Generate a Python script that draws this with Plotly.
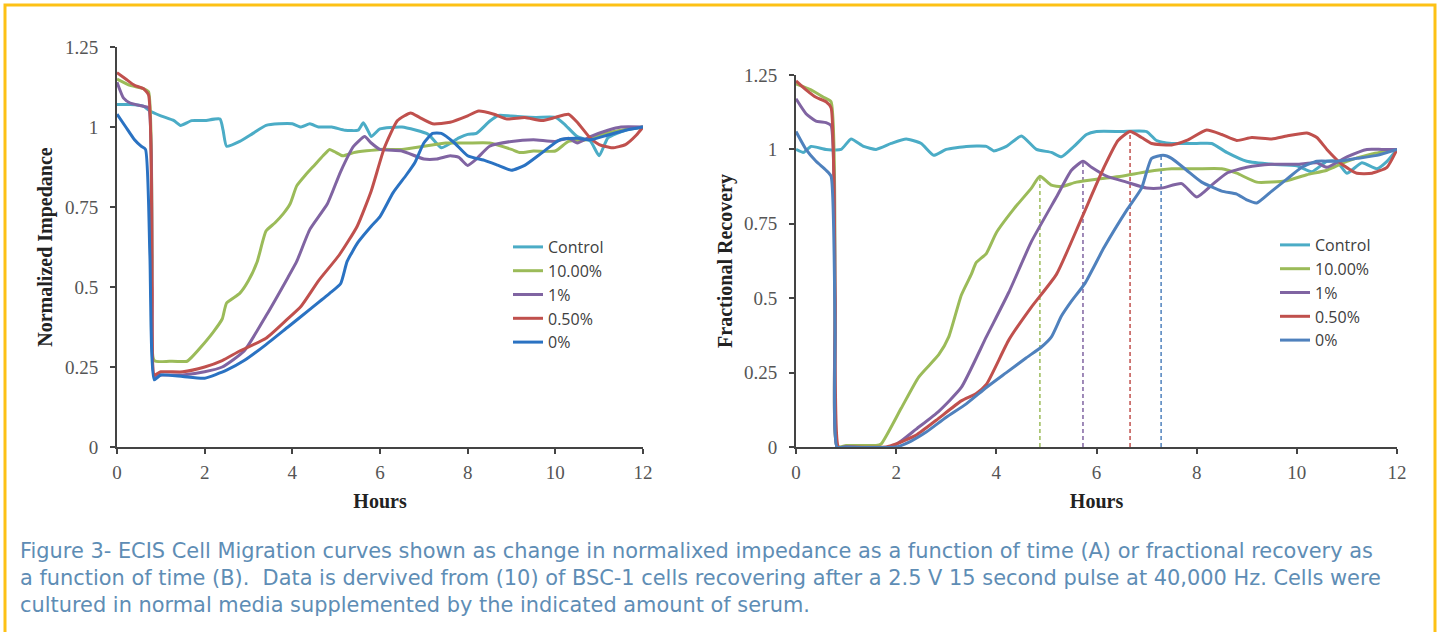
import plotly.graph_objects as go

W, H = 1442, 632

series_names = ["Control", "10.00%", "1%", "0.50%", "0%"]
colors_a = ["#4BACC6", "#9BBB59", "#8064A2", "#C0504D", "#2A72C2"]
colors_b = ["#4BACC6", "#9BBB59", "#8064A2", "#C0504D", "#4F81BD"]

# ---------- Panel A: Normalized Impedance ----------
a_control_t = [0, 0.3, 0.6, 0.75, 1.0, 1.3, 1.45, 1.7, 2.0, 2.35, 2.42, 2.5, 2.8, 3.1, 3.4, 3.7, 4.0, 4.2, 4.4,
               4.6, 4.9, 5.2, 5.5, 5.62, 5.72, 5.8, 6.0, 6.5, 7.1, 7.4, 7.8, 8.0, 8.2, 8.5, 8.7, 9.0, 9.55, 10.0,
               10.2, 10.5, 10.8, 11.0, 11.2, 11.6, 12]
a_control_v = [1.07, 1.07, 1.065, 1.05, 1.035, 1.02, 1.005, 1.02, 1.02, 1.025, 0.99, 0.94, 0.955, 0.98, 1.005,
               1.01, 1.01, 1.0, 1.01, 1.0, 1.0, 0.99, 0.99, 1.013, 0.99, 0.97, 0.994, 1.0, 0.977, 0.935, 0.966,
               0.977, 0.98, 1.018, 1.036, 1.034, 1.03, 1.03, 1.01, 0.97, 0.956, 0.91, 0.966, 0.99, 1.0]

a_10_t = [0, 0.3, 0.6, 0.72, 0.8, 0.85, 1.2, 1.6, 1.7, 1.9, 2.2, 2.4, 2.5, 2.8, 3.0, 3.2, 3.4, 3.6, 3.8, 3.95,
          4.1, 4.3, 4.5, 4.7, 4.85, 5.0, 5.15, 5.4, 6.0, 6.5, 7.0, 7.5, 8.0, 8.5, 9.0, 9.2, 9.5, 10.0, 10.3,
          10.7, 11.0, 11.5, 12]
a_10_v = [1.15, 1.13, 1.12, 1.11, 0.6, 0.27, 0.268, 0.268, 0.28, 0.31, 0.36, 0.40, 0.45, 0.48, 0.52, 0.58,
          0.675, 0.70, 0.73, 0.76, 0.816, 0.85, 0.88, 0.91, 0.93, 0.92, 0.91, 0.92, 0.93, 0.93, 0.94, 0.95,
          0.95, 0.95, 0.93, 0.92, 0.925, 0.925, 0.955, 0.96, 0.975, 0.99, 1.0]

a_1_t = [0, 0.15, 0.3, 0.6, 0.72, 0.8, 0.85, 1.0, 1.5, 2.0, 2.4, 2.9, 3.4, 3.9, 4.1, 4.4, 4.8, 5.1, 5.4, 5.65,
         5.8, 6.0, 6.5, 7.0, 7.3, 7.6, 7.8, 8.0, 8.2, 8.5, 9.0, 9.5, 10.0, 10.3, 10.5, 10.8, 11.2, 11.5, 12]
a_1_v = [1.14, 1.09, 1.075, 1.065, 1.06, 0.5, 0.22, 0.225, 0.225, 0.235, 0.25, 0.30, 0.41, 0.53, 0.58, 0.68,
         0.76, 0.86, 0.94, 0.97, 0.95, 0.93, 0.925, 0.90, 0.90, 0.91, 0.905, 0.88, 0.90, 0.94, 0.955, 0.96,
         0.955, 0.965, 0.95, 0.97, 0.99, 1.0, 1.0]

a_05_t = [0, 0.2, 0.4, 0.6, 0.72, 0.8, 0.85, 1.0, 1.5, 2.0, 2.4, 2.8, 3.4, 3.85, 4.2, 4.6, 5.07, 5.48, 5.8, 6.1,
          6.4, 6.7, 6.9, 7.2, 7.6, 8.0, 8.25, 8.6, 8.9, 9.3, 9.7, 10.0, 10.3, 10.5, 10.8, 11.0, 11.3, 11.6,
          11.85, 12]
a_05_v = [1.17, 1.15, 1.13, 1.12, 1.10, 0.5, 0.225, 0.235, 0.235, 0.25, 0.27, 0.30, 0.34, 0.395, 0.44, 0.52,
          0.60, 0.69, 0.80, 0.935, 1.02, 1.044, 1.03, 1.01, 1.015, 1.035, 1.05, 1.04, 1.025, 1.03, 1.02, 1.03,
          1.04, 1.015, 0.965, 0.945, 0.935, 0.945, 0.975, 1.0]

a_0_t = [0, 0.2, 0.4, 0.55, 0.65, 0.75, 0.85, 1.0, 1.5, 2.0, 2.5, 2.9, 3.4, 3.9, 4.4, 4.85, 5.1, 5.25, 5.5,
         5.8, 6.0, 6.3, 6.6, 6.8, 7.0, 7.2, 7.4, 7.7, 8.0, 8.4, 8.7, 9.0, 9.3, 9.7, 10.1, 10.5, 10.8, 11.2,
         11.6, 12]
a_0_v = [1.04, 1.0, 0.96, 0.94, 0.93, 0.6, 0.21, 0.225, 0.22, 0.215, 0.24, 0.27, 0.32, 0.375, 0.43, 0.48,
         0.51, 0.58, 0.64, 0.69, 0.72, 0.795, 0.85, 0.89, 0.95, 0.98, 0.98, 0.95, 0.91, 0.895, 0.88, 0.865,
         0.88, 0.92, 0.96, 0.965, 0.96, 0.975, 0.99, 1.0]

# ---------- Panel B: Fractional Recovery ----------
b_control_t = [0, 0.15, 0.3, 0.6, 0.9, 1.1, 1.35, 1.6, 1.9, 2.2, 2.5, 2.75, 3.0, 3.4, 3.8, 3.95, 4.2, 4.5,
               4.8, 5.1, 5.3, 5.55, 5.8, 6.0, 6.5, 7.0, 7.2, 7.5, 8.0, 8.3, 8.6, 9.0, 9.5, 10.0, 10.3, 10.6,
               10.8, 11.0, 11.3, 11.6, 11.8, 12]
b_control_v = [1.0, 0.99, 1.01, 1.0, 1.0, 1.035, 1.01, 1.0, 1.02, 1.035, 1.02, 0.98, 1.0, 1.01, 1.01, 0.995,
               1.01, 1.045, 1.0, 0.99, 0.975, 1.01, 1.05, 1.06, 1.06, 1.06, 1.03, 1.02, 1.02, 1.02, 0.99,
               0.96, 0.95, 0.945, 0.925, 0.96, 0.96, 0.92, 0.955, 0.935, 0.96, 1.0]

b_10_t = [0, 0.3, 0.55, 0.7, 0.78, 0.82, 1.0, 1.3, 1.6, 1.7, 2.1, 2.45, 2.85, 3.05, 3.3, 3.5, 3.6, 3.8, 4.0,
          4.35, 4.7, 4.87, 5.1, 5.3, 5.6, 6.0, 6.5, 7.0, 7.5, 8.0, 8.5, 8.8, 9.2, 9.8, 10.2, 10.6, 11.0,
          11.5, 12]
b_10_v = [1.22, 1.2, 1.175, 1.16, 0.5, 0.0, 0.005, 0.005, 0.005, 0.01, 0.13, 0.235, 0.31, 0.37, 0.51, 0.58,
          0.62, 0.65, 0.72, 0.80, 0.87, 0.91, 0.88, 0.875, 0.89, 0.90, 0.91, 0.925, 0.935, 0.935, 0.935,
          0.92, 0.89, 0.895, 0.915, 0.93, 0.96, 0.985, 1.0]

b_1_t = [0, 0.2, 0.4, 0.6, 0.7, 0.78, 0.82, 1.0, 1.9, 2.1, 2.4, 2.85, 3.3, 3.8, 4.25, 4.7, 5.2, 5.5, 5.73,
         5.9, 6.2, 6.6, 7.0, 7.3, 7.7, 8.0, 8.3, 8.6, 9.0, 9.5, 10.0, 10.4, 10.6, 11.0, 11.4, 11.7, 12]
b_1_v = [1.17, 1.12, 1.095, 1.09, 1.08, 0.5, 0.0, 0.0, 0.0, 0.02, 0.06, 0.12, 0.2, 0.37, 0.52, 0.69, 0.84,
         0.93, 0.96, 0.94, 0.91, 0.89, 0.87, 0.87, 0.885, 0.84, 0.88, 0.92, 0.94, 0.95, 0.95, 0.955, 0.94,
         0.975, 1.0, 1.0, 1.0]

b_05_t = [0, 0.2, 0.4, 0.6, 0.7, 0.78, 0.85, 1.0, 1.8, 2.0, 2.4, 2.8, 3.3, 3.6, 3.8, 4.25, 4.7, 5.2, 5.68,
          6.15, 6.43, 6.67, 6.9, 7.1, 7.5, 7.8, 8.2, 8.5, 8.8, 9.1, 9.5, 9.8, 10.2, 10.4, 10.6, 10.9, 11.2,
          11.5, 11.8, 12]
b_05_v = [1.23, 1.2, 1.175, 1.16, 1.14, 0.5, 0.0, 0.0, 0.0, 0.01, 0.04, 0.09, 0.155, 0.18, 0.21, 0.36, 0.47,
          0.58, 0.76, 0.94, 1.03, 1.06, 1.04, 1.02, 1.015, 1.03, 1.065, 1.05, 1.03, 1.04, 1.035, 1.045,
          1.055, 1.04, 1.0, 0.95, 0.92, 0.92, 0.94, 1.0]

b_0_t = [0, 0.2, 0.4, 0.6, 0.7, 0.78, 0.82, 1.0, 2.0, 2.3, 2.6, 3.0, 3.4, 3.8, 4.2, 4.6, 4.9, 5.1, 5.3,
         5.5, 5.77, 6.15, 6.62, 6.9, 7.1, 7.33, 7.5, 7.8, 8.1, 8.5, 8.8, 9.0, 9.2, 9.5, 9.8, 10.1, 10.4,
         10.8, 11.2, 11.6, 12]
b_0_v = [1.06, 1.0, 0.96, 0.93, 0.91, 0.4, 0.0, 0.0, 0.0, 0.02, 0.05, 0.1, 0.145, 0.2, 0.25, 0.3, 0.336,
         0.37, 0.44, 0.49, 0.55, 0.67, 0.80, 0.87, 0.97, 0.98, 0.97, 0.93, 0.89, 0.86, 0.85, 0.83, 0.82,
         0.86, 0.90, 0.94, 0.96, 0.96, 0.97, 0.98, 1.0]

# time to peak markers (panel B), for 10.00%, 1%, 0.50%, 0%
peak_names = ["10.00%", "1%", "0.50%", "0%"]
peak_hours = [4.87, 5.73, 6.67, 7.29]
peak_values = [0.91, 0.96, 1.06, 0.98]
peak_colors = ["#9BBB59", "#8064A2", "#C0504D", "#4F81BD"]

x_ticks = [0, 2, 4, 6, 8, 10, 12]
y_ticks = [0, 0.25, 0.5, 0.75, 1, 1.25]
y_ticklabels = ["0", "0.25", "0.5", "0.75", "1", "1.25"]

caption_lines = [
    "Figure 3- ECIS Cell Migration curves shown as change in normalixed impedance as a function of time (A) or fractional recovery as",
    "a function of time (B).  Data is dervived from (10) of BSC-1 cells recovering after a 2.5 V 15 second pulse at 40,000 Hz. Cells were",
    "cultured in normal media supplemented by the indicated amount of serum.",
]

panel_a = [(a_control_t, a_control_v), (a_10_t, a_10_v), (a_1_t, a_1_v), (a_05_t, a_05_v), (a_0_t, a_0_v)]
panel_b = [(b_control_t, b_control_v), (b_10_t, b_10_v), (b_1_t, b_1_v), (b_05_t, b_05_v), (b_0_t, b_0_v)]

fig = go.Figure()

for i, (t, v) in enumerate(panel_a):
    fig.add_trace(go.Scatter(x=t, y=v, mode="lines", name=series_names[i],
                             line=dict(color=colors_a[i], width=3, shape="spline", smoothing=0.5),
                             xaxis="x", yaxis="y", legend="legend", legendgroup="a%d" % i))

for k in range(len(peak_hours)):
    fig.add_trace(go.Scatter(x=[peak_hours[k], peak_hours[k]], y=[0, peak_values[k]], mode="lines",
                             line=dict(color=peak_colors[k], width=1.5, dash="4px,3px"),
                             showlegend=False, hoverinfo="skip", xaxis="x2", yaxis="y2",
                             name=peak_names[k]))

for i, (t, v) in enumerate(panel_b):
    fig.add_trace(go.Scatter(x=t, y=v, mode="lines", name=series_names[i],
                             line=dict(color=colors_b[i], width=3, shape="spline", smoothing=0.5),
                             xaxis="x2", yaxis="y2", legend="legend2", legendgroup="b%d" % i))

def px_x(p):
    return p / W

def px_y(p):
    return (H - p) / H

tick_font = dict(family="Liberation Serif, Times New Roman, serif", size=19, color="#555555")
title_font = dict(family="Liberation Serif, Times New Roman, serif", size=20, color="#222222", weight="bold")

common_x = dict(range=[0, 12], tickvals=x_ticks, ticks="outside", ticklen=5, tickwidth=2,
                tickcolor="#444444", showline=True, linecolor="#444444", linewidth=2,
                showgrid=False, zeroline=False, tickfont=tick_font, fixedrange=True,
                ticklabelstandoff=2)
common_y = dict(range=[0, 1.25], tickvals=y_ticks, ticktext=y_ticklabels, ticks="outside", ticklen=5,
                tickwidth=2, tickcolor="#444444", showline=True, linecolor="#444444", linewidth=2,
                showgrid=False, zeroline=False, tickfont=tick_font, fixedrange=True,
                ticklabelstandoff=8)

legend_font = dict(family="Open Sans, Noto Sans, sans-serif", size=16, color="#404040")

fig.update_layout(
    width=W, height=H,
    margin=dict(l=0, r=0, t=0, b=0, autoexpand=False),
    paper_bgcolor="white", plot_bgcolor="white",
    xaxis=dict(domain=[px_x(117), px_x(643)], anchor="y",
               title=dict(text="Hours", font=title_font, standoff=12), **common_x),
    yaxis=dict(domain=[px_y(447), px_y(47)], anchor="x",
               title=dict(text="Normalized Impedance", font=title_font, standoff=7), **common_y),
    xaxis2=dict(domain=[px_x(796), px_x(1397)], anchor="y2",
                title=dict(text="Hours", font=title_font, standoff=12), **common_x),
    yaxis2=dict(domain=[px_y(447), px_y(75)], anchor="x2",
                title=dict(text="Fractional Recovery", font=title_font, standoff=6), **common_y),
    legend=dict(x=px_x(508), y=px_y(230), xanchor="left", yanchor="top", font=legend_font,
                bgcolor="rgba(255,255,255,0)", tracegroupgap=0, itemwidth=30),
    legend2=dict(x=px_x(1275), y=px_y(228), xanchor="left", yanchor="top", font=legend_font,
                 bgcolor="rgba(255,255,255,0)", tracegroupgap=0, itemwidth=30),
    showlegend=True,
)

caption_y = [551, 578, 605]
for line, yy in zip(caption_lines, caption_y):
    fig.add_annotation(text=line, xref="paper", yref="paper", x=px_x(18), y=px_y(yy),
                       xanchor="left", yanchor="middle", showarrow=False,
                       font=dict(family="DejaVu Sans, Verdana, sans-serif", size=20.9, color="#5E8DB5"))

# yellow frame
fig.add_shape(type="rect", xref="paper", yref="paper",
              x0=px_x(5), x1=px_x(1435), y0=-0.05, y1=px_y(5),
              line=dict(color="#FDC116", width=3), fillcolor="rgba(0,0,0,0)", layer="below")

fig.write_html("out.html", config={"displayModeBar": False},
               post_script="document.body.style.margin='0px';")
